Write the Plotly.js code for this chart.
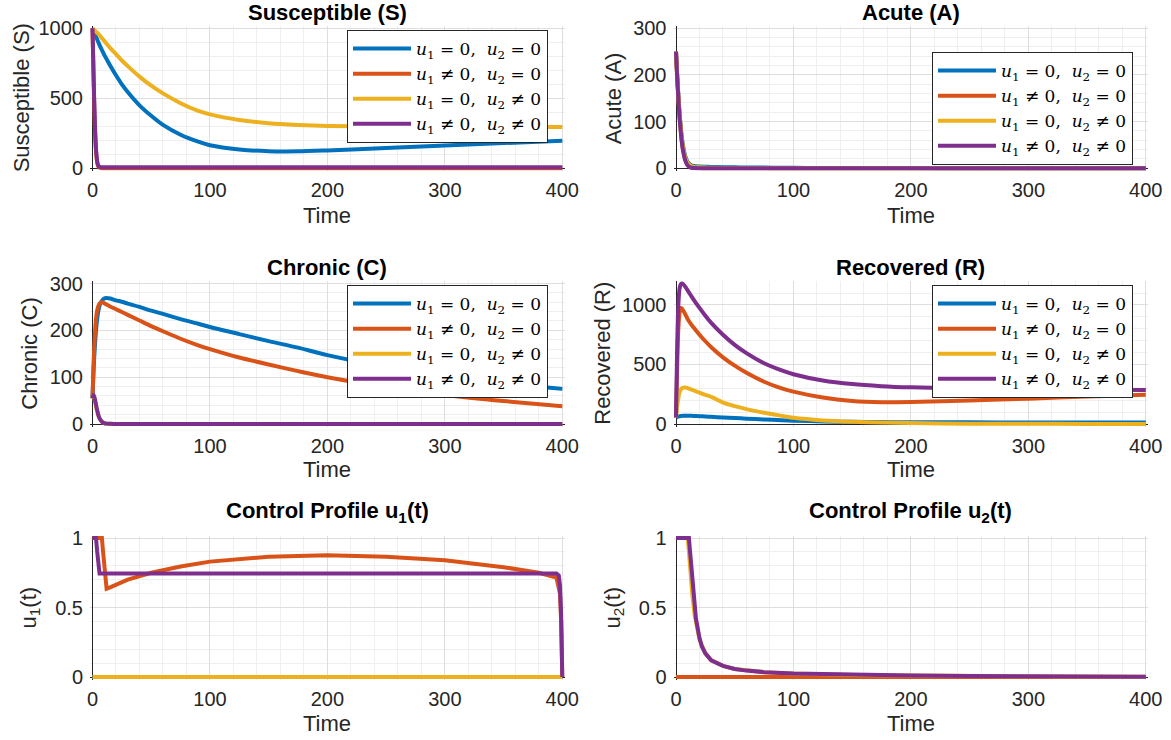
<!DOCTYPE html>
<html><head><meta charset="utf-8">
<script src="https://cdn.plot.ly/plotly-3.0.1.min.js"></script>
<style>html,body{margin:0;padding:0;background:#fff}#chart{width:1171px;height:740px}</style>
</head><body><div id="chart"></div>
<script>
// ---- data ----
const seriesNames = [
  '<i>u</i><sub>1</sub> = 0,  <i>u</i><sub>2</sub> = 0',
  '<i>u</i><sub>1</sub> ≠ 0,  <i>u</i><sub>2</sub> = 0',
  '<i>u</i><sub>1</sub> = 0,  <i>u</i><sub>2</sub> ≠ 0',
  '<i>u</i><sub>1</sub> ≠ 0,  <i>u</i><sub>2</sub> ≠ 0'
];
const colors = ['#0072BD', '#D95319', '#EDB120', '#7E2F8E'];

const T = [0,1,2,3,4,5,6,8,10,12,15,20,25,30,40,50,60,75,90,100,125,150,175,200,250,300,350,400];

const S_blue   = [1000,980,960,940,920,900,880,845,810,780,735,665,600,545,450,375,310,240,190,165,135,122,121,128,145,163,180,196];
const S_orange = [1000,620,300,120,40,12,4,1,0.5,0.3,0.2,0.2,0.2,0.2,0.2,0.2,0.2,0.2,0.2,0.2,0.2,0.2,0.2,0.2,0.2,0.2,0.2,0.2];
const S_yellow = [1000,992,984,976,968,960,950,930,910,890,860,815,770,730,655,590,535,465,410,385,345,322,310,303,298,296,295,295];
const S_purple = [1000,640,330,140,50,18,10,8,8,8,8,8,8,8,8,8,8,8,8,8,8,8,8,8,8,8,8,8];

const A_blue   = [250,200,158,120,90,66,48,25,13,8,5,4,3.5,3,2.5,2,1.8,1.5,1.2,1,0.8,0.6,0.5,0.4,0.3,0.2,0.2,0.2];
const A_orange = [250,196,152,113,83,58,40,18,7,3,1,0.4,0.2,0.1,0.1,0.1,0.1,0.1,0.1,0.1,0.1,0.1,0.1,0.1,0.1,0.1,0.1,0.1];
const A_yellow = [250,198,155,117,87,63,45,22,11,6,3,2,1.5,1.2,0.9,0.7,0.5,0.4,0.3,0.2,0.1,0.1,0.1,0.1,0.1,0.1,0.1,0.1];
const A_purple = [250,195,150,110,80,55,38,16,6,2,0.6,0.2,0.1,0,0,0,0,0,0,0,0,0,0,0,0,0,0,0];

const C_blue   = [55,120,165,200,225,242,253,263,268,269,268,264,261,257,250,242,235,224,214,207,192,177,163,147,122,102,87,75];
const C_orange = [55,135,190,225,243,252,257,260,258,255,251,245,239,233,221,209,198,182,168,160,142,127,113,100,79,62,49,38];
const C_yellow = [55,58,50,38,27,18,12,5,2,0.8,0.3,0.1,0,0,0,0,0,0,0,0,0,0,0,0,0,0,0,0];
const C_purple = [55,62,54,41,29,19,12,5,2,0.8,0.3,0.1,0,0,0,0,0,0,0,0,0,0,0,0,0,0,0,0];

const R_blue   = [55,60,63,65,67,68,69,70,70,69,68,66,63,60,55,50,45,38,32,28,22,18,16,15,14,13,13,13];
const R_orange = [55,480,800,930,975,970,955,920,880,850,810,750,695,645,560,490,430,355,300,272,222,193,183,185,197,213,230,245];
const R_yellow = [55,150,220,265,288,300,305,307,302,293,282,263,245,228,180,150,125,95,68,52,30,19,12,8,3,1.5,1,0.5];
const R_purple = [55,650,1000,1135,1172,1180,1176,1152,1120,1090,1045,975,910,850,750,665,595,510,450,418,365,335,318,308,298,292,288,285];

const U1_zero_t   = [0,400];
const U1_blue     = [0,0];
const U1_yellow   = [0,0];
const U1_orange_t = [0,8,9,10,11,12,15,20,30,50,75,100,150,200,250,300,350,380,390,395,398,399,400];
const U1_orange   = [1,1,0.9,0.78,0.66,0.635,0.645,0.665,0.7,0.75,0.795,0.83,0.865,0.875,0.865,0.84,0.79,0.75,0.73,0.715,0.6,0.4,0];
const U1_purple_t = [0,3,4,5,6,380,392,395,397,398,399,400];
const U1_purple   = [1,1,0.9,0.78,0.745,0.745,0.748,0.745,0.73,0.66,0.45,0];

const U2_zero_t   = [0,400];
const U2_blue     = [0,0];
const U2_orange   = [0,0];
const U2_yellow_t = [0,10,11,12,13,14,16,20,25,30,40,50,75,100,150,200,300,400];
const U2_yellow   = [1,1,0.9,0.78,0.67,0.58,0.44,0.27,0.17,0.12,0.08,0.058,0.035,0.025,0.015,0.01,0.005,0.002];
const U2_purple_t = [0,11,12,13,14,15,17,20,22,25,30,40,50,60,75,100,150,200,250,300,350,400];
const U2_purple   = [1,1,0.9,0.8,0.7,0.6,0.42,0.28,0.22,0.17,0.12,0.08,0.058,0.046,0.035,0.025,0.015,0.01,0.007,0.005,0.003,0.002];

const xTicks = [0,100,200,300,400];

// ---- geometry ----
const W = 1171, H = 740, PAD = 2.5;
const COLS = [[92.5, 562.3], [676, 1145.8]];
const ROWS = [[28.3, 168.3], [283.5, 424], [538, 677]];

const panels = [
  {col:0,row:0,title:'<b>Susceptible (S)</b>', ytitle:'Susceptible (S)', yx:21, yr:[0,1000], dt:500, mdt:100, legend:'legend', smooth:true,
   series:[[T,S_blue],[T,S_orange],[T,S_yellow],[T,S_purple]]},
  {col:1,row:0,title:'<b>Acute (A)</b>', ytitle:'Acute (A)', yx:613, yr:[0,300], dt:100, mdt:20, legend:'legend2', smooth:true,
   series:[[T,A_blue],[T,A_orange],[T,A_yellow],[T,A_purple]]},
  {col:0,row:1,title:'<b>Chronic (C)</b>', ytitle:'Chronic (C)', yx:30, yr:[0,300], dt:100, mdt:20, legend:'legend3', smooth:true,
   series:[[T,C_blue],[T,C_orange],[T,C_yellow],[T,C_purple]]},
  {col:1,row:1,title:'<b>Recovered (R)</b>', ytitle:'Recovered (R)', yx:603, yr:[0,1180], dt:500, mdt:100, legend:'legend4', smooth:true,
   series:[[T,R_blue],[T,R_orange],[T,R_yellow],[T,R_purple]]},
  {col:0,row:2,title:'<b>Control Profile u<sub>1</sub>(t)</b>', ytitle:'u<sub>1</sub>(t)', yx:29, yr:[0,1], dt:0.5, mdt:0.1, legend:null, smooth:false,
   series:[[U1_zero_t,U1_blue],[U1_orange_t,U1_orange],[U1_zero_t,U1_yellow],[U1_purple_t,U1_purple]]},
  {col:1,row:2,title:'<b>Control Profile u<sub>2</sub>(t)</b>', ytitle:'u<sub>2</sub>(t)', yx:613, yr:[0,1], dt:0.5, mdt:0.1, legend:null, smooth:false,
   series:[[U2_zero_t,U2_blue],[U2_zero_t,U2_orange],[U2_yellow_t,U2_yellow],[U2_purple_t,U2_purple]]}
];
const titleCenters = [12, 267, 512];
const timeY = [215, 470, 723];

const FONT = 'Liberation Sans, Arial, sans-serif';
const traces = [];
const layout = {
  width: W, height: H, margin: {l:0,r:0,t:0,b:0},
  paper_bgcolor: '#fff', plot_bgcolor: '#fff',
  font: {family: FONT, size: 20, color: '#262626'},
  annotations: [], showlegend: true
};

panels.forEach((p, i) => {
  const n = i + 1;
  const xs = n === 1 ? '' : String(n);
  const [x0, x1] = COLS[p.col];
  const [y0, y1] = ROWS[p.row];
  const xu = 400 / (x1 - x0), yu = (p.yr[1] - p.yr[0]) / (y1 - y0);
  layout['xaxis' + xs] = {
    domain: [(x0 - PAD) / W, (x1 + PAD) / W],
    range: [0 - PAD * xu, 400 + PAD * xu],
    anchor: 'y' + xs, tickvals: xTicks, ticks: '', showline: false, ticklabelstandoff: 5,
    zeroline: true, zerolinecolor: '#262626', zerolinewidth: 1,
    showgrid: true, gridcolor: '#dedede', gridwidth: 1,
    minor: {dtick: 20, tick0: 0, showgrid: true, gridcolor: '#efefef', gridwidth: 1},
    tickfont: {family: FONT, size: 20, color: '#262626'}, fixedrange: true
  };
  const yt = [];
  for (let v = p.yr[0]; v <= p.yr[1] + 1e-9; v += p.dt) yt.push(+v.toFixed(3));
  layout['yaxis' + xs] = {
    domain: [1 - (y1 + PAD) / H, 1 - (y0 - PAD) / H],
    range: [p.yr[0] - PAD * yu, p.yr[1] + PAD * yu],
    anchor: 'x' + xs, tickvals: yt, ticks: '', showline: false, ticklabelstandoff: 6,
    zeroline: true, zerolinecolor: '#262626', zerolinewidth: 1,
    showgrid: true, gridcolor: '#dedede', gridwidth: 1,
    minor: {dtick: p.mdt, tick0: 0, showgrid: true, gridcolor: '#efefef', gridwidth: 1},
    tickfont: {family: FONT, size: 20, color: '#262626'}, fixedrange: true
  };
  p.series.forEach((s, k) => {
    const tr = {
      type: 'scatter', mode: 'lines', x: s[0], y: s[1],
      xaxis: 'x' + xs, yaxis: 'y' + xs, name: seriesNames[k],
      line: p.smooth ? {color: colors[k], width: 4, shape: 'spline', smoothing: 0.7}
                     : {color: colors[k], width: 4},
      hoverinfo: 'skip'
    };
    if (p.legend) { tr.legend = p.legend; tr.showlegend = true; } else { tr.showlegend = false; }
    traces.push(tr);
  });
  const cx = (x0 + x1) / 2 / W;
  layout.annotations.push({
    xref: 'paper', yref: 'paper', x: cx, y: 1 - titleCenters[p.row] / H,
    xanchor: 'center', yanchor: 'middle', showarrow: false, text: p.title, borderpad: 0,
    font: {family: FONT, size: 22, color: '#000'}
  });
  layout.annotations.push({
    xref: 'paper', yref: 'paper', x: cx, y: 1 - timeY[p.row] / H,
    xanchor: 'center', yanchor: 'middle', showarrow: false, text: 'Time',
    font: {family: FONT, size: 22, color: '#262626'}
  });
  layout.annotations.push({
    xref: 'paper', yref: 'paper', x: p.yx / W, y: 1 - (y0 + y1) / 2 / H,
    xanchor: 'center', yanchor: 'middle', showarrow: false, text: p.ytitle, textangle: -90,
    font: {family: FONT, size: 22, color: '#262626'}
  });
});

const legBase = {
  bgcolor: '#fff', bordercolor: '#262626', borderwidth: 1,
  font: {family: 'DejaVu Serif, Liberation Serif, serif', size: 17, color: '#000'},
  xanchor: 'right', yanchor: 'top', itemwidth: 58, tracegroupgap: 0, traceorder: 'normal'
};
layout.legend  = Object.assign({}, legBase, {x: 548 / W,  y: 1 - 30 / H});
layout.legend2 = Object.assign({}, legBase, {x: 1133 / W, y: 1 - 52 / H});
layout.legend3 = Object.assign({}, legBase, {x: 548 / W,  y: 1 - 285 / H});
layout.legend4 = Object.assign({}, legBase, {x: 1133 / W, y: 1 - 285 / H});

Plotly.newPlot('chart', traces, layout, {staticPlot: true, displayModeBar: false});
</script>
</body></html>
